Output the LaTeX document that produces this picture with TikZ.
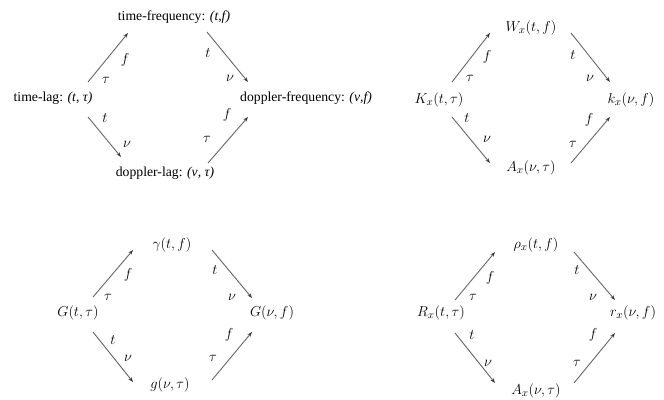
\documentclass[tikz,border=0pt]{standalone}
\usepackage{fontspec}
\setmainfont{Liberation Serif}
\usetikzlibrary{arrows.meta}
\begin{document}
\begin{tikzpicture}[x=1pt,y=-1pt,
  conn/.style={draw=black!60,line width=0.9pt,-{Stealth[length=5pt,width=3.5pt,black!80]}},
  lbl/.style={inner sep=0pt,font=\fontsize{13.7}{16}\selectfont},
  mlbl/.style={inner sep=0pt,font=\fontsize{15}{17}\selectfont},
  var/.style={inner sep=0pt,font=\fontsize{15}{17}\selectfont}]
\useasboundingbox (0,0) rectangle (664,399);
% ---------- diagram 1 ----------
\node[lbl] (tl) at (53,98) {time-lag: \textit{(t, τ)}};
\node[lbl] (tf) at (174,17) {time-frequency: \textit{(t,f)}};
\node[lbl] (dl) at (165,173) {doppler-lag: \textit{(ν, τ)}};
\node[lbl,anchor=west] (df) at (240,98) {doppler-frequency: \textit{(ν,f)}};
\coordinate (a1s) at (88,82);  \coordinate (a1e) at (128,33);
\coordinate (a2s) at (207,32); \coordinate (a2e) at (248,82);
\coordinate (a3s) at (88,117); \coordinate (a3e) at (121,157);
\coordinate (a4s) at (208,163);\coordinate (a4e) at (248,117);
\draw[conn] (a1s) -- (a1e);
\draw[conn] (a2s) -- (a2e);
\draw[conn] (a3s) -- (a3e);
\draw[conn] (a4s) -- (a4e);
\node[var] (v1a) at (125,60) {$f$};
\node[var] (v1b) at (106,80) {$\tau$};
\node[var] (v1c) at (208,53) {$t$};
\node[var] (v1d) at (230,78) {$\nu$};
\node[var] (v1e) at (105,118) {$t$};
\node[var] (v1f) at (127,144) {$\nu$};
\node[var] (v1g) at (207,139) {$\tau$};
\node[var] (v1h) at (227,115) {$f$};
% ---------- diagram 2 ----------
\node[mlbl] (K) at (439,100) {$K_x(t,\tau)$};
\node[mlbl] (W) at (531,28) {$W_x(t,f)$};
\node[mlbl] (A) at (531,168) {$A_x(\nu,\tau)$};
\node[mlbl] (k) at (631,100) {$k_x(\nu,f)$};
\coordinate (b1s) at (452,82);  \coordinate (b1e) at (490,33);
\coordinate (b2s) at (571,33);  \coordinate (b2e) at (610,82);
\coordinate (b3s) at (452,117); \coordinate (b3e) at (490,163);
\coordinate (b4s) at (571,163); \coordinate (b4e) at (610,117);
\draw[conn] (b1s) -- (b1e);
\draw[conn] (b2s) -- (b2e);
\draw[conn] (b3s) -- (b3e);
\draw[conn] (b4s) -- (b4e);
\node[var] (v2a) at (487,57) {$f$};
\node[var] (v2b) at (470,78) {$\tau$};
\node[var] (v2c) at (573,55) {$t$};
\node[var] (v2d) at (590,78) {$\nu$};
\node[var] (v2e) at (467,118) {$t$};
\node[var] (v2f) at (487,139) {$\nu$};
\node[var] (v2g) at (573,144) {$\tau$};
\node[var] (v2h) at (589,120) {$f$};
% ---------- diagram 3 ----------
\node[mlbl] (G1) at (78,313) {$G(t,\tau)$};
\node[mlbl] (gam) at (172,245) {$\gamma(t,f)$};
\node[mlbl] (g) at (170,385) {$g(\nu,\tau)$};
\node[mlbl] (G2) at (272,313) {$G(\nu,f)$};
\coordinate (c1s) at (93,297);  \coordinate (c1e) at (133,250);
\coordinate (c2s) at (212,250); \coordinate (c2e) at (252,298);
\coordinate (c3s) at (93,332);  \coordinate (c3e) at (133,382);
\coordinate (c4s) at (212,380); \coordinate (c4e) at (252,332);
\draw[conn] (c1s) -- (c1e);
\draw[conn] (c2s) -- (c2e);
\draw[conn] (c3s) -- (c3e);
\draw[conn] (c4s) -- (c4e);
\node[var] (v3a) at (128,275) {$f$};
\node[var] (v3b) at (108,297) {$\tau$};
\node[var] (v3c) at (215,270) {$t$};
\node[var] (v3d) at (232,297) {$\nu$};
\node[var] (v3e) at (113,340) {$t$};
\node[var] (v3f) at (128,358) {$\nu$};
\node[var] (v3g) at (213,358) {$\tau$};
\node[var] (v3h) at (229,335) {$f$};
% ---------- diagram 4 ----------
\node[mlbl] (R) at (441,313) {$R_x(t,\tau)$};
\node[mlbl] (rho) at (536,245) {$\rho_x(t,f)$};
\node[mlbl] (A2) at (536,391) {$A_x(\nu,\tau)$};
\node[mlbl] (r) at (633,313) {$r_x(\nu,f)$};
\coordinate (d1s) at (455,300); \coordinate (d1e) at (495,252);
\coordinate (d2s) at (574,252); \coordinate (d2e) at (615,300);
\coordinate (d3s) at (455,333); \coordinate (d3e) at (495,383);
\coordinate (d4s) at (574,383); \coordinate (d4e) at (615,333);
\draw[conn] (d1s) -- (d1e);
\draw[conn] (d2s) -- (d2e);
\draw[conn] (d3s) -- (d3e);
\draw[conn] (d4s) -- (d4e);
\node[var] (v4a) at (490,278) {$f$};
\node[var] (v4b) at (473,297) {$\tau$};
\node[var] (v4c) at (577,270) {$t$};
\node[var] (v4d) at (593,297) {$\nu$};
\node[var] (v4e) at (472,335) {$t$};
\node[var] (v4f) at (488,363) {$\nu$};
\node[var] (v4g) at (577,363) {$\tau$};
\node[var] (v4h) at (593,335) {$f$};
\end{tikzpicture}
\end{document}
